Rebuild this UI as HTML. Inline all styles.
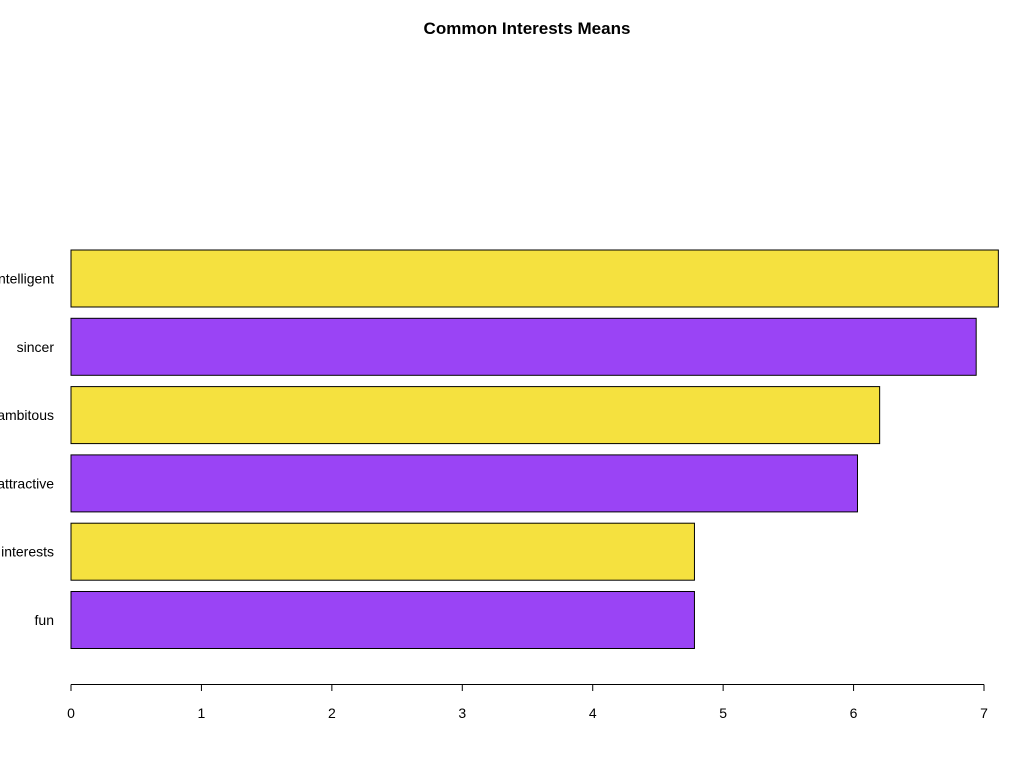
<!DOCTYPE html>
<html><head><meta charset="utf-8"><style>
html,body{margin:0;padding:0;background:#fff;}
svg{display:block;font-family:"Liberation Sans",Arial,sans-serif;}
</style></head><body>
<svg id="chart" width="1011" height="760">
<text x="527" y="34" text-anchor="middle" font-size="17" font-weight="bold">Common Interests Means</text>
<g id="bars"></g>
<g id="axis"></g>
</svg>
<script>
const categories = ["intelligent","sincer","ambitous","attractive","interests","fun"];
const values = [7.11, 6.94, 6.2, 6.03, 4.78, 4.78];
const colors = ["#F5E13F","#9A44F5","#F5E13F","#9A44F5","#F5E13F","#9A44F5"];
const ticks = [0,1,2,3,4,5,6,7];

const ns = "http://www.w3.org/2000/svg";
const x0 = 71, xUnit = (984-71)/7;
function xs(v){ return x0 + v*xUnit; }
const yTop = 250, step = 68.3, bh = 57;
function ys(i){ return yTop + i*step; }

const bars = document.getElementById('bars');
categories.forEach((c,i)=>{
  const r = document.createElementNS(ns,'rect');
  r.setAttribute('x', xs(0));
  r.setAttribute('y', ys(i));
  r.setAttribute('width', xs(values[i]) - xs(0));
  r.setAttribute('height', bh);
  r.setAttribute('fill', colors[i]);
  r.setAttribute('stroke', '#000');
  r.setAttribute('stroke-width', '1');
  
  
  bars.appendChild(r);
  const t = document.createElementNS(ns,'text');
  t.setAttribute('x', 54);
  t.setAttribute('y', ys(i) + bh/2 + 5);
  t.setAttribute('text-anchor', 'end');
  t.setAttribute('font-size', '14');
  t.textContent = c;
  
  
  bars.appendChild(t);
});

const axis = document.getElementById('axis');
const line = document.createElementNS(ns,'line');
line.setAttribute('x1', xs(ticks[0])); line.setAttribute('x2', xs(ticks[ticks.length-1]));
line.setAttribute('y1', 684.5); line.setAttribute('y2', 684.5);
line.setAttribute('stroke', '#000');


axis.appendChild(line);
ticks.forEach(v=>{
  const l = document.createElementNS(ns,'line');
  l.setAttribute('x1', xs(v)); l.setAttribute('x2', xs(v));
  l.setAttribute('y1', 684.5); l.setAttribute('y2', 691);
  l.setAttribute('stroke', '#000');
  
  
  axis.appendChild(l);
  const t = document.createElementNS(ns,'text');
  t.setAttribute('x', xs(v)); t.setAttribute('y', 718);
  t.setAttribute('text-anchor', 'middle');
  t.setAttribute('font-size', '14');
  t.textContent = v;
  
  
  axis.appendChild(t);
});
</script>
</body></html>
